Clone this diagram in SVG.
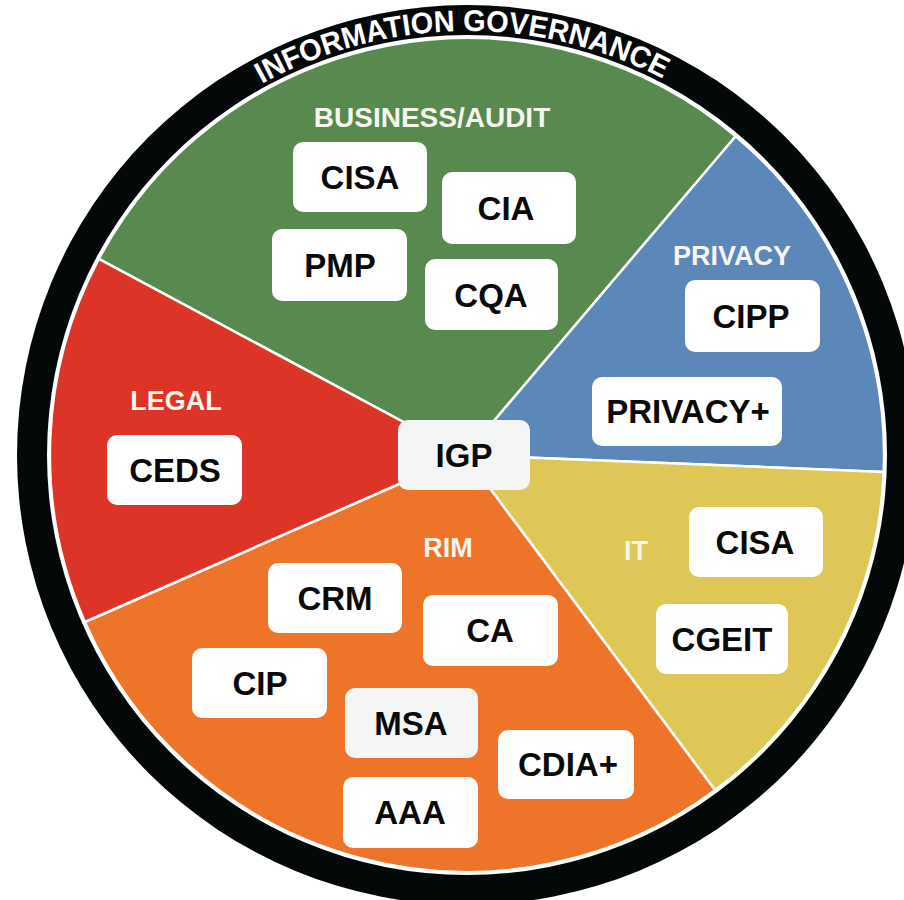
<svg xmlns="http://www.w3.org/2000/svg" width="904" height="900" viewBox="0 0 904 900">
<style>
.wedge{stroke:#ffffff;stroke-width:2.5;stroke-linejoin:round}
.box{fill:#ffffff}
.light{fill:#f4f6f6}
.bt{font-family:"Liberation Sans",Arial,sans-serif;font-weight:bold;font-size:33px;fill:#0a0a0a;text-anchor:middle}
.lbl{font-family:"Liberation Sans",Arial,sans-serif;font-weight:bold;font-size:27px;fill:#f6f4ec;text-anchor:middle}
.ring{font-family:"Liberation Sans",Arial,sans-serif;font-weight:bold;font-size:30px;fill:#ffffff}
</style>
<defs>
<path id="arc" d="M 43 455 A 424 424 0 0 1 891 455"/>
</defs>
<rect width="904" height="900" fill="#ffffff"/>
<g id="ring">
<circle cx="467" cy="455" r="450" fill="#050809"/>
<circle cx="467" cy="455" r="420" fill="#ffffff"/>
<text class="ring"><textPath href="#arc" startOffset="49.6%" text-anchor="middle" textLength="418" lengthAdjust="spacingAndGlyphs">INFORMATION GOVERNANCE</textPath></text>
</g>
<g id="wedges">
<path id="w-business" class="wedge" fill="#588a50" d="M 465 455 L 98.8 258.9 A 417 417 0 0 1 735.7 136.2 Z"/>
<path id="w-privacy" class="wedge" fill="#5b88b9" d="M 465 455 L 735.7 136.2 A 417 417 0 0 1 883.7 471.9 Z"/>
<path id="w-it" class="wedge" fill="#dfc757" d="M 465 455 L 883.7 471.9 A 417 417 0 0 1 715.1 790.2 Z"/>
<path id="w-rim" class="wedge" fill="#ed7428" d="M 465 455 L 715.1 790.2 A 417 417 0 0 1 84.9 622 Z"/>
<path id="w-legal" class="wedge" fill="#dd3428" d="M 465 455 L 84.9 622 A 417 417 0 0 1 98.8 258.9 Z"/>
</g>
<g id="labels">
<text class="lbl" x="432" y="127" style="font-size:28px">BUSINESS/AUDIT</text>
<text class="lbl" x="732" y="265">PRIVACY</text>
<text class="lbl" x="176" y="410">LEGAL</text>
<text class="lbl" x="636" y="560">IT</text>
<text class="lbl" x="448" y="557">RIM</text>
</g>
<g id="igp"><rect class="light" x="398" y="420" width="132" height="70" rx="10"/><text class="bt" x="464" y="467">IGP</text></g>
<g id="cisa-ba"><rect class="box" x="293" y="142" width="134" height="70" rx="10"/><text class="bt" x="360" y="189">CISA</text></g>
<g id="cia"><rect class="box" x="442" y="172" width="134" height="72" rx="10"/><text class="bt" x="506" y="220">CIA</text></g>
<g id="pmp"><rect class="box" x="272" y="229" width="135" height="72" rx="10"/><text class="bt" x="340" y="277">PMP</text></g>
<g id="cqa"><rect class="box" x="425" y="259" width="133" height="71" rx="10"/><text class="bt" x="491" y="307">CQA</text></g>
<g id="cipp"><rect class="box" x="685" y="280" width="135" height="72" rx="10"/><text class="bt" x="751" y="328">CIPP</text></g>
<g id="privacyplus"><rect class="box" x="592" y="377" width="190" height="69" rx="10"/><text class="bt" x="688" y="423">PRIVACY+</text></g>
<g id="ceds"><rect class="box" x="107" y="435" width="135" height="70" rx="10"/><text class="bt" x="175" y="482">CEDS</text></g>
<g id="cisa-it"><rect class="box" x="689" y="507" width="134" height="70" rx="10"/><text class="bt" x="755" y="554">CISA</text></g>
<g id="cgeit"><rect class="box" x="656" y="604" width="132" height="70" rx="10"/><text class="bt" x="722" y="651">CGEIT</text></g>
<g id="crm"><rect class="box" x="268" y="563" width="134" height="70" rx="10"/><text class="bt" x="335" y="610">CRM</text></g>
<g id="ca"><rect class="box" x="423" y="595" width="135" height="71" rx="10"/><text class="bt" x="490" y="642">CA</text></g>
<g id="cip"><rect class="box" x="192" y="648" width="135" height="70" rx="10"/><text class="bt" x="260" y="695">CIP</text></g>
<g id="msa"><rect class="light" x="345" y="688" width="133" height="70" rx="10"/><text class="bt" x="411" y="735">MSA</text></g>
<g id="cdiaplus"><rect class="box" x="498" y="730" width="136" height="69" rx="10"/><text class="bt" x="568" y="776">CDIA+</text></g>
<g id="aaa"><rect class="box" x="343" y="777" width="135" height="71" rx="10"/><text class="bt" x="410" y="824">AAA</text></g>
</svg>
